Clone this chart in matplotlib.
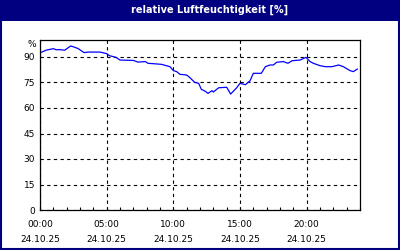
import matplotlib
matplotlib.use('Agg')
import matplotlib.pyplot as plt
from matplotlib.patches import Rectangle
from matplotlib.ticker import MultipleLocator

# Stunden seit 00:00 und relative Luftfeuchte in %
hours = [0.0, 0.45, 1.0, 1.2, 1.5, 1.85, 2.3, 2.5, 2.85, 3.3, 3.6, 4.5, 5.0, 5.2,
         5.7, 6.0, 7.0, 7.35, 7.9, 8.1, 9.1, 9.75, 10.0, 10.25, 10.5, 11.0, 11.25,
         11.6, 11.9, 12.1, 12.4, 12.6, 12.9, 13.0, 13.4, 14.0, 14.3, 14.75, 15.0,
         15.4, 15.75, 16.0, 16.6, 16.9, 17.25, 17.5, 17.75, 18.25, 18.6, 18.9,
         19.5, 19.95, 20.25, 20.5, 21.0, 21.4, 21.9, 22.4, 22.75, 23.25, 23.5, 23.8]
humidity = [92.4, 94.0, 94.9, 94.3, 94.3, 94.0, 96.5, 96.0, 95.0, 92.6, 92.9, 92.9,
            92.0, 90.8, 89.8, 88.2, 88.0, 87.0, 87.3, 86.3, 85.7, 84.3, 82.0, 81.4,
            79.8, 79.4, 77.8, 75.1, 74.5, 71.0, 69.8, 68.6, 70.2, 69.4, 71.9, 72.2,
            68.2, 71.9, 74.5, 73.7, 76.0, 80.4, 80.4, 84.3, 85.3, 85.3, 86.9, 87.3,
            86.3, 87.8, 88.2, 89.8, 87.3, 86.3, 84.9, 84.3, 84.3, 85.3, 84.3, 82.0,
            81.4, 82.9]

xticks = [0, 5, 10, 15, 20]
xlabels = ['00:00\n24.10.25', '05:00\n24.10.25', '10:00\n24.10.25',
           '15:00\n24.10.25', '20:00\n24.10.25']
yticks = [0, 15, 30, 45, 60, 75, 90]

NAVY = '#000080'

fig = plt.figure(figsize=(4, 2.5), dpi=100)
fig.patch.set_facecolor('white')

# Titelleiste und Rahmen
fig.patches.append(Rectangle((0, 0.918), 1, 0.082, transform=fig.transFigure,
                             facecolor=NAVY, edgecolor='none', zorder=0))
fig.patches.append(Rectangle((0.002, 0.004), 0.996, 0.99, transform=fig.transFigure,
                             facecolor='none', edgecolor=NAVY, lw=1.5, zorder=1))
fig.text(0.523, 0.96, 'relative Luftfeuchtigkeit [%]', color='white',
         fontsize=7, fontweight='bold', ha='center', va='center')

ax = fig.add_axes([0.1, 0.16, 0.8, 0.68])
ax.plot(hours, humidity, color='#0000ff', lw=0.9)

ax.set_xlim(0, 24)
ax.set_ylim(0, 100)
ax.set_xticks(xticks)
ax.set_xticklabels(xlabels, fontsize=6.5, linespacing=1.85)
ax.xaxis.set_minor_locator(MultipleLocator(1))
ax.set_yticks(yticks)
ax.set_yticklabels([str(v) for v in yticks], fontsize=6.5)

ax.tick_params(axis='x', which='both', direction='in', length=2.5, width=0.8, pad=7)
ax.tick_params(axis='y', length=0, pad=3.5)
ax.grid(True, which='major', color='black', linestyle=(0, (3, 3)), lw=0.8)

for s in ax.spines.values():
    s.set_color('black')
    s.set_linewidth(0.9)

fig.text(0.09, 0.822, '%', fontsize=6.5, ha='right', va='center')

plt.savefig('out.png', dpi=100)
